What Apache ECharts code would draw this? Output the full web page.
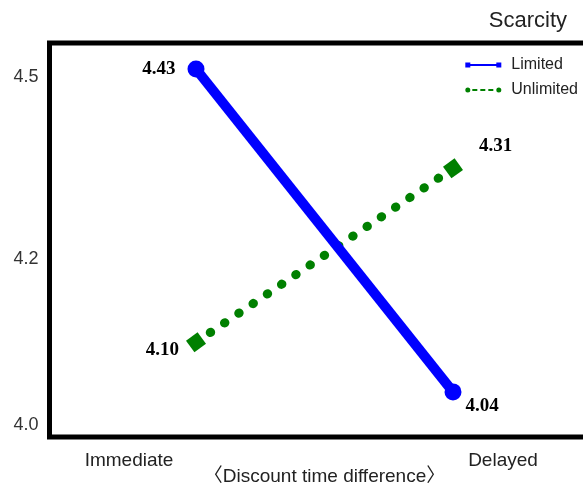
<!DOCTYPE html>
<html>
<head>
<meta charset="utf-8">
<script src="https://cdn.jsdelivr.net/npm/echarts@6/dist/echarts.min.js"></script>
<style>
html,body{margin:0;padding:0;background:#fff;}
#chart{width:583px;height:487px;}
</style>
</head>
<body>
<div id="chart"></div>
<script>
// ---- data ----
const categories = ['Immediate', 'Delayed'];
const seriesNames = ['Limited', 'Unlimited'];
const limited = [4.43, 4.04];
const unlimited = [4.10, 4.31];
const yTickValues = [4.0, 4.2, 4.42];
const yTickLabels = ['4.0', '4.2', '4.5'];
const legendTitle = 'Scarcity';
const xAxisName = '\u3008Discount time difference\u3009';

// ---- styles ----
const BLUE = '#0000ff';
const GREEN = '#008000';
const Y_MIN = 3.9855, Y_MAX = 4.4614;
const sansFont = "'Liberation Sans', Arial, 'Noto Sans CJK KR', sans-serif";
const labelFont = {fontFamily: "'Liberation Serif', 'Times New Roman', serif", fontWeight: 'bold', fontSize: 19, color: '#000'};
const diamondPath = 'path://M0,5.9L8.1,0L14,8.1L5.9,14Z';

const limitedLabels = [
  {position: 'left', distance: 12, offset: [0, 0]},
  {position: 'right', distance: 4, offset: [0, 14]}
];
const unlimitedLabels = [
  {position: 'left', distance: 7, offset: [0, 8]},
  {position: 'right', distance: 16, offset: [0, -22]}
];

const chart = echarts.init(document.getElementById('chart'), null, {renderer: 'canvas'});
chart.setOption({
  animation: false,
  backgroundColor: '#fff',
  title: {
    text: legendTitle, right: 11, top: 5,
    textStyle: {fontFamily: sansFont, fontWeight: 'normal', fontSize: 22, color: '#222'}
  },
  legend: {
    orient: 'vertical', right: 0, top: 52,
    itemWidth: 36, itemHeight: 8, itemGap: 9,
    itemStyle: {borderWidth: 0},
    textStyle: {fontFamily: sansFont, fontSize: 16, color: '#222', padding: [0, 0, 0, 5]},
    data: [
      {name: seriesNames[0], icon: 'path://M0,1h5v5h-5zM5,2.5h26v2h-26zM31,1h5v5h-5z'},
      {name: seriesNames[1], icon: 'path://M0,3.5a2.5,2.5 0 1,0 5,0a2.5,2.5 0 1,0 -5,0zM7,2.5h5v2h-5zM15,2.5h5v2h-5zM23,2.5h5v2h-5zM31,3.5a2.5,2.5 0 1,0 5,0a2.5,2.5 0 1,0 -5,0z'}
    ]
  },
  grid: [
    {left: 196, right: 130, top: 43, bottom: 50, show: false, outerBoundsMode: 'none'},
    {left: 49.5, width: 550, top: 43, bottom: 50, show: true, borderColor: '#000', borderWidth: 5, backgroundColor: 'transparent', outerBoundsMode: 'none'},
    {left: 129, right: 80, top: 43, bottom: 50, show: false, outerBoundsMode: 'none'}
  ],
  xAxis: [
    {gridIndex: 0, type: 'category', data: categories, boundaryGap: false, show: false},
    {gridIndex: 1, type: 'value', show: false, min: 0, max: 1},
    {gridIndex: 2, type: 'category', data: categories, boundaryGap: false,
     axisLine: {show: false}, axisTick: {show: false}, splitLine: {show: false},
     axisLabel: {margin: 14, fontFamily: sansFont, fontSize: 19, color: '#222'},
     name: xAxisName, nameLocation: 'middle', nameGap: 30, nameMoveOverlap: false,
     nameTextStyle: {fontFamily: sansFont, fontSize: 19, color: '#222', padding: [0, 0, 0, 17]}}
  ],
  yAxis: [
    {gridIndex: 0, type: 'value', min: Y_MIN, max: Y_MAX, show: false},
    {gridIndex: 1, type: 'value', min: Y_MIN, max: Y_MAX,
     axisLine: {show: false}, axisTick: {show: false}, splitLine: {show: false},
     axisLabel: {
       customValues: yTickValues, margin: 11,
       fontFamily: sansFont, fontSize: 18, color: '#333',
       formatter: function (v) {
         const i = yTickValues.findIndex(t => Math.abs(t - v) < 1e-9);
         return i >= 0 ? yTickLabels[i] : '';
       }
     }},
    {gridIndex: 2, type: 'value', show: false}
  ],
  series: [
    {
      name: seriesNames[0], type: 'line', xAxisIndex: 0, yAxisIndex: 0, clip: false,
      symbol: 'circle', symbolSize: 17, z: 3,
      itemStyle: {color: BLUE, borderWidth: 0},
      lineStyle: {color: BLUE, width: 10},
      data: limited.map((v, i) => ({value: v, label: Object.assign({show: true, formatter: (p) => p.value.toFixed(2)}, labelFont, limitedLabels[i])}))
    },
    {
      name: seriesNames[1], type: 'line', xAxisIndex: 0, yAxisIndex: 0, clip: false,
      symbol: diamondPath, symbolSize: 20, z: 2,
      itemStyle: {color: GREEN, borderWidth: 0},
      lineStyle: {color: GREEN, width: 9, type: [0.5, 16.7], cap: 'round'},
      data: unlimited.map((v, i) => ({value: v, label: Object.assign({show: true, formatter: (p) => p.value.toFixed(2)}, labelFont, unlimitedLabels[i])}))
    }
  ]
});
</script>
</body>
</html>
